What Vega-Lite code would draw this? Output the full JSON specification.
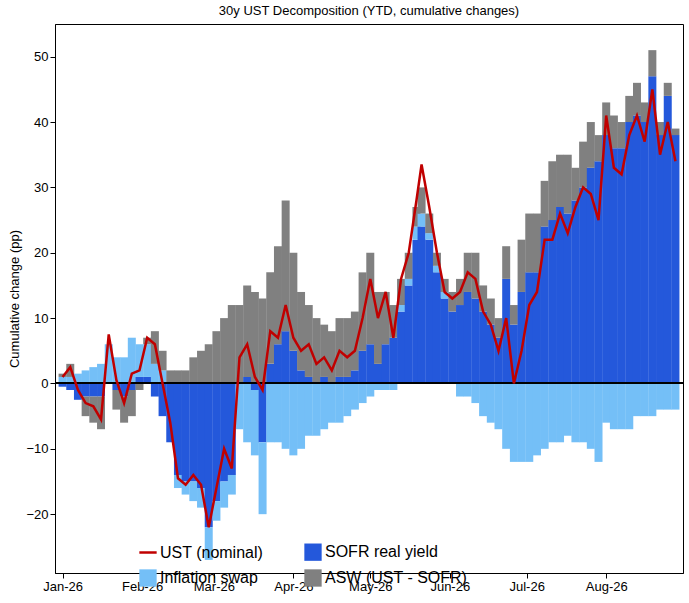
{
  "$schema": "https://vega.github.io/schema/vega-lite/v6.json",
  "autosize": {"type": "fit", "contains": "padding"},
  "width": 689,
  "height": 603,
  "padding": {"left": 8, "right": 5, "top": 5, "bottom": 10},
  "title": {"text": "30y UST Decomposition (YTD, cumulative changes)", "fontSize": 13, "fontWeight": "normal", "font": "Liberation Sans", "offset": 6},
  "config": {
    "view": {"stroke": "black"},
    "font": "Liberation Sans",
    "axis": {"grid": false, "labelFontSize": 13, "titleFontSize": 13, "titleFontWeight": "normal", "domainColor": "black", "tickColor": "black", "labelColor": "black"}
  },
  "data": {"values": [
    {"date": "2026/01/01", "s1": -0.5, "s2": 1, "s3": 0.5, "ust": 1},
    {"date": "2026/01/04", "s1": -1, "s2": 1, "s3": 2, "ust": 2.5},
    {"date": "2026/01/07", "s1": -2.5, "s2": 1.5, "s3": 0, "ust": -1},
    {"date": "2026/01/10", "s1": -2, "s2": 2, "s3": -3, "ust": -3},
    {"date": "2026/01/13", "s1": -2, "s2": 2.5, "s3": -4, "ust": -3.5},
    {"date": "2026/01/16", "s1": -2, "s2": 3, "s3": -5, "ust": -5.5},
    {"date": "2026/01/19", "s1": 0, "s2": 6, "s3": 0, "ust": 7.5},
    {"date": "2026/01/22", "s1": -1, "s2": 4, "s3": -3, "ust": 0.5},
    {"date": "2026/01/25", "s1": -2, "s2": 4, "s3": -4, "ust": -3},
    {"date": "2026/01/28", "s1": -1, "s2": 7, "s3": -4, "ust": 1.5},
    {"date": "2026/01/31", "s1": 1, "s2": 5, "s3": -1, "ust": 2},
    {"date": "2026/02/03", "s1": 1, "s2": 5, "s3": 1, "ust": 7},
    {"date": "2026/02/06", "s1": -2, "s2": 3, "s3": 5, "ust": 6},
    {"date": "2026/02/09", "s1": -5, "s2": 2, "s3": 3, "ust": 0},
    {"date": "2026/02/12", "s1": -9, "s2": 0, "s3": 2, "ust": -6},
    {"date": "2026/02/15", "s1": -14, "s2": -2, "s3": 2, "ust": -14.5},
    {"date": "2026/02/18", "s1": -15, "s2": -2, "s3": 2, "ust": -15.5},
    {"date": "2026/02/21", "s1": -15, "s2": -3, "s3": 4, "ust": -14},
    {"date": "2026/02/24", "s1": -16, "s2": -3, "s3": 5, "ust": -15.5},
    {"date": "2026/02/27", "s1": -22, "s2": -5, "s3": 6, "ust": -22},
    {"date": "2026/03/02", "s1": -18, "s2": -3, "s3": 8, "ust": -16},
    {"date": "2026/03/05", "s1": -15, "s2": -4, "s3": 10, "ust": -10},
    {"date": "2026/03/08", "s1": -14, "s2": -3, "s3": 12, "ust": -13},
    {"date": "2026/03/11", "s1": 0, "s2": -7, "s3": 12, "ust": 4},
    {"date": "2026/03/14", "s1": 1, "s2": -9, "s3": 14, "ust": 6},
    {"date": "2026/03/17", "s1": -1, "s2": -10, "s3": 14, "ust": 1},
    {"date": "2026/03/20", "s1": -9, "s2": -11, "s3": 13, "ust": -1},
    {"date": "2026/03/23", "s1": 3, "s2": -9, "s3": 14, "ust": 8},
    {"date": "2026/03/26", "s1": 6, "s2": -9, "s3": 15, "ust": 7},
    {"date": "2026/03/29", "s1": 8, "s2": -10, "s3": 20, "ust": 12},
    {"date": "2026/04/01", "s1": 5, "s2": -11, "s3": 15, "ust": 7},
    {"date": "2026/04/04", "s1": 2, "s2": -10, "s3": 12, "ust": 5},
    {"date": "2026/04/07", "s1": 1, "s2": -8, "s3": 11, "ust": 6},
    {"date": "2026/04/10", "s1": 0, "s2": -8, "s3": 10, "ust": 3},
    {"date": "2026/04/13", "s1": 1, "s2": -7, "s3": 8, "ust": 4},
    {"date": "2026/04/16", "s1": 0, "s2": -6, "s3": 8, "ust": 2},
    {"date": "2026/04/19", "s1": 1, "s2": -6, "s3": 9, "ust": 5},
    {"date": "2026/04/22", "s1": 1, "s2": -5, "s3": 9, "ust": 4},
    {"date": "2026/04/25", "s1": 2, "s2": -4, "s3": 9, "ust": 5},
    {"date": "2026/04/28", "s1": 5, "s2": -3, "s3": 12, "ust": 10},
    {"date": "2026/05/01", "s1": 6, "s2": -2, "s3": 14, "ust": 16},
    {"date": "2026/05/04", "s1": 3, "s2": -1, "s3": 11, "ust": 10},
    {"date": "2026/05/07", "s1": 6, "s2": -1, "s3": 8, "ust": 14},
    {"date": "2026/05/10", "s1": 7, "s2": -1, "s3": 5, "ust": 7},
    {"date": "2026/05/13", "s1": 11, "s2": 1, "s3": 4, "ust": 16},
    {"date": "2026/05/16", "s1": 15, "s2": 1, "s3": 4, "ust": 20},
    {"date": "2026/05/19", "s1": 22, "s2": 2, "s3": 3, "ust": 28},
    {"date": "2026/05/21", "s1": 24, "s2": 2, "s3": 4, "ust": 33.5},
    {"date": "2026/05/24", "s1": 22, "s2": 1, "s3": 3, "ust": 27},
    {"date": "2026/05/27", "s1": 17, "s2": 1, "s3": 2, "ust": 20},
    {"date": "2026/05/30", "s1": 13, "s2": 1, "s3": 2, "ust": 14},
    {"date": "2026/06/02", "s1": 11, "s2": 0, "s3": 3, "ust": 13},
    {"date": "2026/06/05", "s1": 12, "s2": -2, "s3": 4, "ust": 14},
    {"date": "2026/06/08", "s1": 14, "s2": -2, "s3": 6, "ust": 17},
    {"date": "2026/06/11", "s1": 13, "s2": -3, "s3": 7, "ust": 16},
    {"date": "2026/06/14", "s1": 11, "s2": -5, "s3": 4, "ust": 11},
    {"date": "2026/06/17", "s1": 9, "s2": -6, "s3": 4, "ust": 9},
    {"date": "2026/06/20", "s1": 7, "s2": -7, "s3": 3, "ust": 5},
    {"date": "2026/06/23", "s1": 16, "s2": -10, "s3": 5, "ust": 10},
    {"date": "2026/06/26", "s1": 9, "s2": -12, "s3": 3, "ust": 0},
    {"date": "2026/06/29", "s1": 14, "s2": -12, "s3": 8, "ust": 5},
    {"date": "2026/07/02", "s1": 17, "s2": -12, "s3": 9, "ust": 12},
    {"date": "2026/07/05", "s1": 17, "s2": -11, "s3": 9, "ust": 14},
    {"date": "2026/07/08", "s1": 24, "s2": -10, "s3": 7, "ust": 22},
    {"date": "2026/07/11", "s1": 25, "s2": -9, "s3": 9, "ust": 22},
    {"date": "2026/07/14", "s1": 27, "s2": -9, "s3": 8, "ust": 26},
    {"date": "2026/07/17", "s1": 26, "s2": -8, "s3": 9, "ust": 23},
    {"date": "2026/07/20", "s1": 28, "s2": -9, "s3": 5, "ust": 27},
    {"date": "2026/07/23", "s1": 30, "s2": -9, "s3": 7, "ust": 30},
    {"date": "2026/07/26", "s1": 33, "s2": -10, "s3": 7, "ust": 29},
    {"date": "2026/07/29", "s1": 34, "s2": -12, "s3": 4, "ust": 25},
    {"date": "2026/08/01", "s1": 38, "s2": -6, "s3": 5, "ust": 41},
    {"date": "2026/08/04", "s1": 36, "s2": -7, "s3": 5, "ust": 33},
    {"date": "2026/08/07", "s1": 36, "s2": -7, "s3": 4, "ust": 32},
    {"date": "2026/08/10", "s1": 40, "s2": -7, "s3": 4, "ust": 38},
    {"date": "2026/08/13", "s1": 41, "s2": -5, "s3": 5, "ust": 41},
    {"date": "2026/08/16", "s1": 40, "s2": -5, "s3": 3, "ust": 37},
    {"date": "2026/08/19", "s1": 47, "s2": -5, "s3": 4, "ust": 45},
    {"date": "2026/08/22", "s1": 38, "s2": -4, "s3": 2, "ust": 35},
    {"date": "2026/08/25", "s1": 44, "s2": -4, "s3": 2, "ust": 40},
    {"date": "2026/08/28", "s1": 38, "s2": -4, "s3": 1, "ust": 34}
  ]},
  "encoding": {
    "x": {
      "field": "date", "type": "temporal", "title": null,
      "scale": {"domain": ["2025/12/31", "2026/08/29"]},
      "axis": {"format": "%b-%y", "tickCount": {"interval": "month", "step": 1}, "labelFlush": false}
    }
  },
  "layer": [
    {
      "transform": [{"fold": ["s1", "s2", "s3"], "as": ["key", "value"]}],
      "mark": {"type": "bar", "size": 8},
      "encoding": {
        "y": {
          "field": "value", "type": "quantitative", "stack": "zero",
          "title": "Cumulative change (pp)",
          "scale": {"domain": [-29, 55], "nice": false},
          "axis": {"values": [-20, -10, 0, 10, 20, 30, 40, 50]}
        },
        "order": {"field": "key", "sort": "ascending"},
        "color": {
          "field": "key", "type": "nominal",
          "scale": {"domain": ["ust", "s2", "s1", "s3"], "range": ["#c00000", "#74bff7", "#2458db", "#808080"]},
          "legend": {
            "title": null, "orient": "none", "legendX": 85, "legendY": 520, "columns": 2, "columnPadding": 40, "rowPadding": 8,
            "labelFontSize": 16, "symbolSize": 300,
            "labelExpr": "datum.value == 'ust' ? 'UST (nominal)' : datum.value == 's1' ? 'SOFR real yield' : datum.value == 's2' ? 'Inflation swap' : 'ASW (UST - SOFR)'",
            "encode": {
              "symbols": {"update": {
                "shape": {"signal": "datum.value == 'ust' ? 'stroke' : 'square'"},
                "strokeWidth": {"signal": "datum.value == 'ust' ? 2.5 : 0"},
                "stroke": {"scale": "color", "field": "value"},
                "fill": {"scale": "color", "field": "value"}
              }}
            }
          }
        }
      }
    },
    {
      "mark": {"type": "rule", "color": "black", "strokeWidth": 1},
      "encoding": {"y": {"datum": 0}, "x": null}
    },
    {
      "mark": {"type": "line", "strokeWidth": 2.5, "color": "#c00000"},
      "encoding": {"y": {"field": "ust", "type": "quantitative"}}
    }
  ]
}
